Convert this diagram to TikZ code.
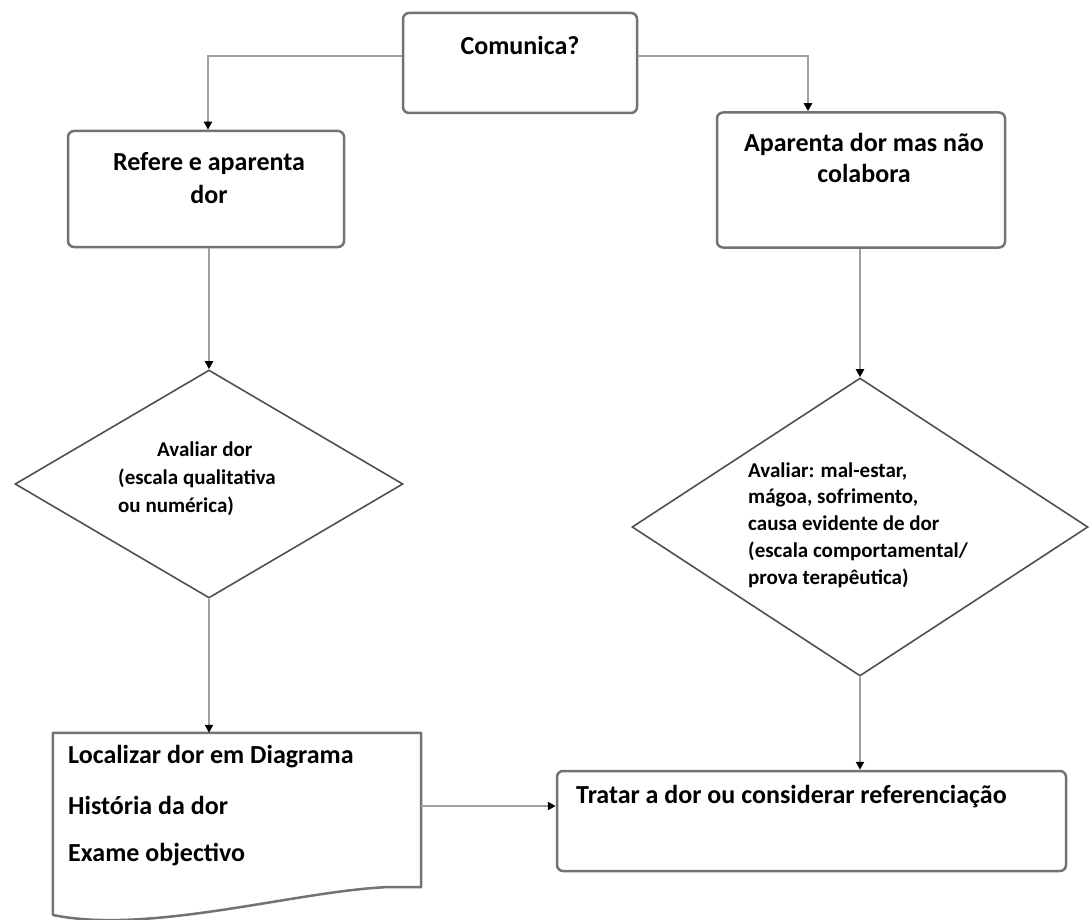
\documentclass[tikz,border=0pt]{standalone}
\usepackage{fontspec}
\setmainfont{Carlito}
\usetikzlibrary{shapes.geometric,arrows.meta}
\definecolor{boxgray}{RGB}{115,115,115}
\definecolor{conngray}{RGB}{160,160,160}
\definecolor{diagray}{RGB}{80,80,80}
\begin{document}
\begin{tikzpicture}[x=1pt,y=-1pt,
  box/.style={draw=boxgray, line width=2.5pt, rounded corners=6pt, fill=white, rectangle, inner sep=0pt},
  dia/.style={draw=diagray, line width=1.6pt, diamond, inner sep=0pt, fill=white},
  bigtxt/.style={font=\fontsize{26}{32}\selectfont\bfseries, inner sep=0pt, text=black},
  smalltxt/.style={font=\fontsize{21}{28}\selectfont\bfseries, inner sep=0pt, text=black, align=left},
  conn/.style={draw=conngray, line width=2.5pt, -{Triangle[length=8pt,width=8pt,color=black]}}
]
\useasboundingbox (0,0) rectangle (1089,920);

% boxes
\node[box, minimum width=234pt, minimum height=100pt] (top) at (520,63) {};
\node[bigtxt] (toptxt) at (520,45) {Comunica?};

\node[box, minimum width=276pt, minimum height=116pt] (lbox) at (206,189) {};
\node[bigtxt, align=center, font=\fontsize{26}{33}\selectfont\bfseries] (lboxtxt) at (209,178) {Refere e aparenta\\dor};

\node[box, minimum width=288pt, minimum height=135pt] (rbox) at (861,180) {};
\node[bigtxt, align=center, font=\fontsize{26}{31}\selectfont\bfseries] (rboxtxt) at (864,158) {Aparenta dor mas não\\colabora};

% diamonds
\node[dia, minimum width=388pt, minimum height=228pt] (ldia) at (209,484) {};
\node[smalltxt, anchor=west] (ldiatxt) at (118,479) {\hspace*{39pt}Avaliar dor\\(escala qualitativa\\ou numérica)};

\node[dia, minimum width=456pt, minimum height=298pt] (rdia) at (860,527) {};
\node[smalltxt, anchor=west, font=\fontsize{21}{26.8}\selectfont\bfseries] (rdiatxt) at (748,525) {Avaliar: mal-estar,\\mágoa, sofrimento,\\causa evidente de dor\\(escala comportamental/\\prova terapêutica)};

% document shape
\node[rectangle, minimum width=368pt, minimum height=154pt, inner sep=0pt] (doc) at (237,810) {};
\draw[draw=boxgray, line width=2.5pt, fill=white, line join=round]
  (doc.south west) ++(0,-28) -- (doc.north west) -- (doc.north east) -- (doc.south east)
  -- (390,887) .. controls (300,890) and (150,935) .. (53,915) -- cycle;
\node[bigtxt, anchor=west] (doc1) at (68,757) {Localizar dor em Diagrama};
\node[bigtxt, anchor=west] (doc2) at (68,805) {História da dor};
\node[bigtxt, anchor=west] (doc3) at (68,855) {Exame objectivo};

% bottom right box
\node[box, minimum width=509pt, minimum height=100pt] (rrbox) at (811.5,821) {};
\node[bigtxt, anchor=west] (rrboxtxt) at (576,797) {Tratar a dor ou considerar referenciação};

% connectors
\draw[conn] ([yshift=7pt]top.west) -| ([xshift=2pt]lbox.north);
\draw[conn] ([yshift=7pt]top.east) -| ([xshift=-53pt]rbox.north);
\draw[conn] (lbox.south -| ldia.north) -- (ldia.north);
\draw[conn] (ldia.south) -- (ldia.south |- doc.north);
\draw[conn] (rbox.south -| rdia.north) -- (rdia.north);
\draw[conn] (rdia.south) -- (rdia.south |- rrbox.north);
\draw[conn] ([yshift=4pt]doc.east) -- ([yshift=4pt]doc.east -| rrbox.west);
\end{tikzpicture}
\end{document}
